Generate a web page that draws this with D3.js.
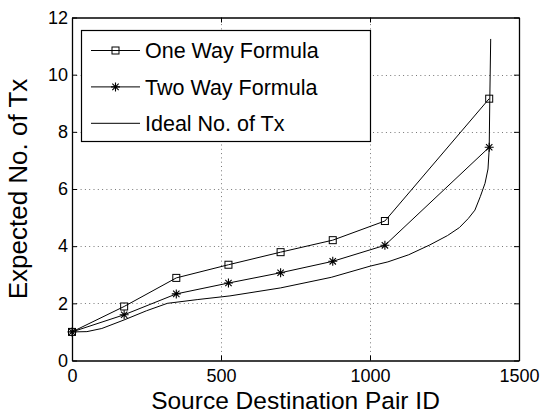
<!DOCTYPE html>
<html>
<head>
<meta charset="utf-8">
<script src="https://cdn.jsdelivr.net/npm/d3@7"></script>
<style>
  body { margin: 0; background: #fff; }
  svg { display: block; font-family: "Liberation Sans", Arial, Helvetica, sans-serif; }
</style>
</head>
<body>
<svg id="chart" width="544" height="414"></svg>
<script>
'use strict';

// data
const pairIds = [0, 175, 350, 525, 700, 875, 1050, 1400];
const oneWay = [1, 1.89, 2.89, 3.35, 3.79, 4.21, 4.88, 9.16];
const twoWay = [1, 1.6, 2.33, 2.71, 3.07, 3.47, 4.03, 7.46];

const idealIds = [0, 50, 100, 175, 250, 320, 420, 530, 700, 870, 1000, 1060, 1130, 1200, 1260, 1300, 1330, 1352, 1370, 1386, 1396, 1400, 1402, 1405];
const idealTx = [1, 1.01, 1.12, 1.42, 1.74, 2.0, 2.13, 2.26, 2.54, 2.91, 3.3, 3.45, 3.7, 4.04, 4.37, 4.65, 4.97, 5.26, 5.73, 6.2, 6.7, 7.4, 9.1, 11.25];

const xTicks = [0, 500, 1000, 1500];
const yTicks = [0, 2, 4, 6, 8, 10, 12];
const legendLabels = ['One Way Formula', 'Two Way Formula', 'Ideal No. of Tx'];

const margin = {left: 72, right: 25, top: 17.5, bottom: 53.5};
const width = 544, height = 414;

const svg = d3.select('#chart');

let x = d3.scaleLinear().domain([0, 1500]).range([margin.left, width - margin.right]);
let y = d3.scaleLinear().domain([0, 12]).range([height - margin.bottom, margin.top]);

// grid
let grid = svg.append('g')
    .attr('stroke', '#777')
    .attr('stroke-width', 1)
    .attr('stroke-dasharray', '1,3.3');

grid.selectAll('.gx')
    .data(xTicks.slice(1, -1))
    .enter()
    .append('line')
        .attr('x1', d => Math.round(x(d)) + 0.5)
        .attr('x2', d => Math.round(x(d)) + 0.5)
        .attr('y1', y(0))
        .attr('y2', y(12));

grid.selectAll('.gy')
    .data(yTicks.slice(1, -1))
    .enter()
    .append('line')
        .attr('y1', d => Math.round(y(d)) + 0.5)
        .attr('y2', d => Math.round(y(d)) + 0.5)
        .attr('x1', x(0))
        .attr('x2', x(1500));

// axes (ticks pointing inward, mirrored on top/right)
let xAxis = svg.append('g')
    .attr('transform', `translate(0, ${y(0)})`)
    .call(d3.axisBottom(x).tickValues(xTicks).tickFormat(d3.format('d'))
        .tickSizeInner(-5).tickSizeOuter(0).tickPadding(8.5));

let yAxis = svg.append('g')
    .attr('transform', `translate(${x(0)}, 0)`)
    .call(d3.axisLeft(y).tickValues(yTicks).tickFormat(d3.format('d'))
        .tickSizeInner(-5).tickSizeOuter(0).tickPadding(4));

svg.append('g')
    .attr('transform', `translate(0, ${y(12)})`)
    .call(d3.axisTop(x).tickValues(xTicks).tickSizeInner(-5).tickSizeOuter(0).tickFormat(''));

svg.append('g')
    .attr('transform', `translate(${x(1500)}, 0)`)
    .call(d3.axisRight(y).tickValues(yTicks).tickSizeInner(-5).tickSizeOuter(0).tickFormat(''));

svg.selectAll('.domain').attr('stroke', '#000').attr('stroke-width', 1.3);
svg.selectAll('.tick line').attr('stroke', '#000');
svg.selectAll('.tick text')
    .attr('fill', '#000')
    .style('font-size', '18px')
    .style('font-family', '"Liberation Sans", Arial, Helvetica, sans-serif');
xAxis.selectAll('.tick text').attr('dy', '0.71em');

// series
let line = d3.line()
    .x(d => x(d[0]))
    .y(d => y(d[1]));

let ideal = d3.zip(idealIds, idealTx);
let one = d3.zip(pairIds, oneWay);
let two = d3.zip(pairIds, twoWay);

svg.append('path')
    .datum(ideal)
    .attr('d', line)
    .attr('fill', 'none')
    .attr('stroke', '#000')
    .attr('stroke-width', 1);

svg.append('path')
    .datum(two)
    .attr('d', line)
    .attr('fill', 'none')
    .attr('stroke', '#000')
    .attr('stroke-width', 1);

svg.append('path')
    .datum(one)
    .attr('d', line)
    .attr('fill', 'none')
    .attr('stroke', '#000')
    .attr('stroke-width', 1);

function square (g, cx, cy) {
    g.append('rect')
        .attr('x', cx - 3.5)
        .attr('y', cy - 3.5)
        .attr('width', 7)
        .attr('height', 7)
        .attr('fill', 'none')
        .attr('stroke', '#000')
        .attr('stroke-width', 1);
}

function star (g, cx, cy) {
    let r = 4.5;
    let p = '';
    for (let a = 0; a < 4; a++) {
        let t = a * Math.PI / 4;
        let dx = r * Math.cos(t), dy = r * Math.sin(t);
        p += `M${cx - dx},${cy - dy}L${cx + dx},${cy + dy}`;
    }
    g.append('path')
        .attr('d', p)
        .attr('stroke', '#000')
        .attr('stroke-width', 1.1)
        .attr('fill', 'none');
}

let marks = svg.append('g');
two.forEach(d => star(marks, x(d[0]), y(d[1])));
one.forEach(d => square(marks, x(d[0]), y(d[1])));

// legend
let legend = svg.append('g');
legend.append('rect')
    .attr('x', 81.5)
    .attr('y', 30.5)
    .attr('width', 289)
    .attr('height', 111)
    .attr('fill', '#fff')
    .attr('stroke', '#000')
    .attr('stroke-width', 1.2);

legendLabels.forEach((label, i) => {
    let cy = 50.5 + i * 36.4;
    legend.append('line')
        .attr('x1', 91)
        .attr('x2', 140)
        .attr('y1', cy)
        .attr('y2', cy)
        .attr('stroke', '#000')
        .attr('stroke-width', 1);
    if (i == 0) square(legend, 115.5, cy);
    if (i == 1) star(legend, 115.5, cy);
    legend.append('text')
        .attr('x', 145)
        .attr('y', cy)
        .attr('dy', '0.36em')
        .style('font-size', '21.5px')
        .text(label);
});

// axis titles
svg.append('text')
    .attr('x', (x(0) + x(1500)) / 2)
    .attr('y', 408.5)
    .attr('text-anchor', 'middle')
    .style('font-size', '24.5px')
    .text('Source Destination Pair ID');

svg.append('text')
    .attr('transform', `translate(27, ${(y(0) + y(12)) / 2}) rotate(-90)`)
    .attr('text-anchor', 'middle')
    .style('font-size', '26px')
    .text('Expected No. of Tx');
</script>
</body>
</html>
